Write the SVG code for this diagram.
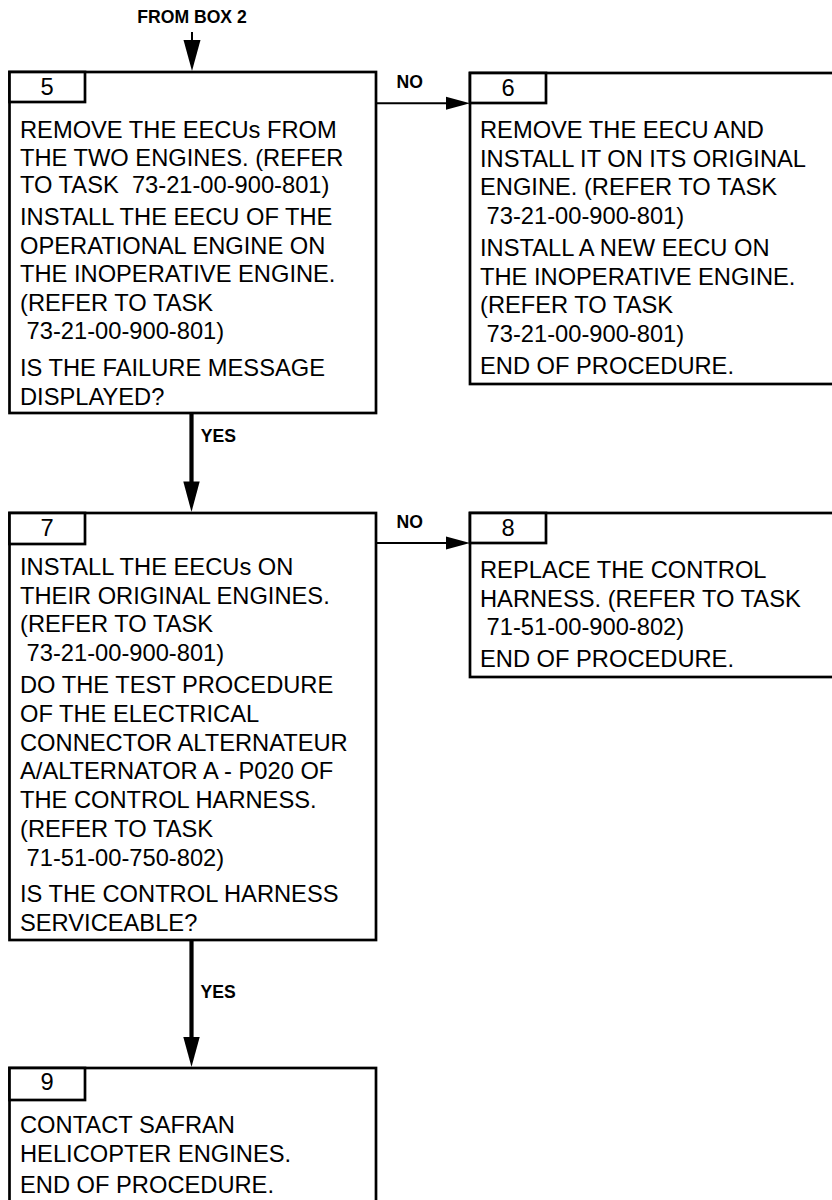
<svg xmlns="http://www.w3.org/2000/svg" width="832" height="1200" viewBox="0 0 832 1200">
<style>
.box{fill:#fff;stroke:#000;stroke-width:2.7}
.t{font-family:"Liberation Sans",Arial,sans-serif;font-size:23.7px;fill:#000}
.n{font-family:"Liberation Sans",Arial,sans-serif;font-size:23.7px;fill:#000;text-anchor:middle}
.lbl{font-family:"Liberation Sans",Arial,sans-serif;font-size:17.6px;font-weight:bold;fill:#000}
.thick{stroke:#000;stroke-width:4.2;fill:none}
.thin{stroke:#000;stroke-width:2;fill:none}
</style>
<rect width="832" height="1200" fill="#fff"/>
<g id="connectors">
  <text class="lbl" x="192" y="23.3" text-anchor="middle">FROM BOX 2</text>
  <line class="thin" x1="192" y1="32" x2="192" y2="42"/>
  <polygon points="183.5,40 200.5,40 192,71"/>
  <line class="thin" x1="376" y1="103.3" x2="450" y2="103.3"/>
  <polygon points="446,96.8 446,109.8 470,103.3"/>
  <text class="lbl" x="396.5" y="88.3">NO</text>
  <line class="thick" x1="191.5" y1="413" x2="191.5" y2="484"/>
  <polygon points="183.3,481.5 199.7,481.5 191.5,512"/>
  <text class="lbl" x="200.7" y="441.7">YES</text>
  <line class="thin" x1="376" y1="543" x2="450" y2="543"/>
  <polygon points="446,536.5 446,549.5 470,543"/>
  <text class="lbl" x="396.5" y="528.3">NO</text>
  <line class="thick" x1="191.5" y1="940" x2="191.5" y2="1040"/>
  <polygon points="183.3,1037 199.7,1037 191.5,1067"/>
  <text class="lbl" x="200.5" y="998.3">YES</text>
</g>
<g id="box5">
  <rect class="box" x="9.5" y="72" width="366.5" height="341"/>
  <rect class="box" x="9.5" y="72" width="75.5" height="30"/>
  <text class="n" x="47" y="95">5</text>
  <text class="t" x="20" y="138">REMOVE THE EECUs FROM</text>
  <text class="t" x="20" y="165.5">THE TWO ENGINES. (REFER</text>
  <text class="t" x="20" y="193" xml:space="preserve">TO TASK  73-21-00-900-801)</text>
  <text class="t" x="20" y="225">INSTALL THE EECU OF THE</text>
  <text class="t" x="20" y="253.5">OPERATIONAL ENGINE ON</text>
  <text class="t" x="20" y="282">THE INOPERATIVE ENGINE.</text>
  <text class="t" x="20" y="310.5">(REFER TO TASK</text>
  <text class="t" x="26.6" y="339">73-21-00-900-801)</text>
  <text class="t" x="20" y="376">IS THE FAILURE MESSAGE</text>
  <text class="t" x="20" y="404.5">DISPLAYED?</text>
</g>
<g id="box6">
  <rect class="box" x="470" y="73" width="380" height="311"/>
  <rect class="box" x="470" y="73" width="76" height="30"/>
  <text class="n" x="508" y="96">6</text>
  <text class="t" x="480" y="138">REMOVE THE EECU AND</text>
  <text class="t" x="480" y="166.5">INSTALL IT ON ITS ORIGINAL</text>
  <text class="t" x="480" y="195">ENGINE. (REFER TO TASK</text>
  <text class="t" x="486.6" y="223.5">73-21-00-900-801)</text>
  <text class="t" x="480" y="256">INSTALL A NEW EECU ON</text>
  <text class="t" x="480" y="284.5">THE INOPERATIVE ENGINE.</text>
  <text class="t" x="480" y="313">(REFER TO TASK</text>
  <text class="t" x="486.6" y="341.5">73-21-00-900-801)</text>
  <text class="t" x="480" y="374">END OF PROCEDURE.</text>
</g>
<g id="box7">
  <rect class="box" x="9.5" y="513" width="366.5" height="427"/>
  <rect class="box" x="9.5" y="513" width="75.5" height="31"/>
  <text class="n" x="47" y="536">7</text>
  <text class="t" x="20" y="575">INSTALL THE EECUs ON</text>
  <text class="t" x="20" y="603.5">THEIR ORIGINAL ENGINES.</text>
  <text class="t" x="20" y="632">(REFER TO TASK</text>
  <text class="t" x="26.6" y="660.5">73-21-00-900-801)</text>
  <text class="t" x="20" y="693">DO THE TEST PROCEDURE</text>
  <text class="t" x="20" y="721.8">OF THE ELECTRICAL</text>
  <text class="t" x="20" y="750.6">CONNECTOR ALTERNATEUR</text>
  <text class="t" x="20" y="779.4">A/ALTERNATOR A - P020 OF</text>
  <text class="t" x="20" y="808.2">THE CONTROL HARNESS.</text>
  <text class="t" x="20" y="837">(REFER TO TASK</text>
  <text class="t" x="26.6" y="865.8">71-51-00-750-802)</text>
  <text class="t" x="20" y="902">IS THE CONTROL HARNESS</text>
  <text class="t" x="20" y="930.5">SERVICEABLE?</text>
</g>
<g id="box8">
  <rect class="box" x="470" y="513" width="380" height="164"/>
  <rect class="box" x="470" y="513" width="76" height="30"/>
  <text class="n" x="508" y="536">8</text>
  <text class="t" x="480" y="578">REPLACE THE CONTROL</text>
  <text class="t" x="480" y="606.5">HARNESS. (REFER TO TASK</text>
  <text class="t" x="486.6" y="635">71-51-00-900-802)</text>
  <text class="t" x="480" y="667">END OF PROCEDURE.</text>
</g>
<g id="box9">
  <rect class="box" x="9.5" y="1068" width="366.5" height="150"/>
  <rect class="box" x="9.5" y="1068" width="75.5" height="32"/>
  <text class="n" x="47" y="1090">9</text>
  <text class="t" x="20" y="1133">CONTACT SAFRAN</text>
  <text class="t" x="20" y="1161.5">HELICOPTER ENGINES.</text>
  <text class="t" x="20" y="1193">END OF PROCEDURE.</text>
</g>
</svg>
